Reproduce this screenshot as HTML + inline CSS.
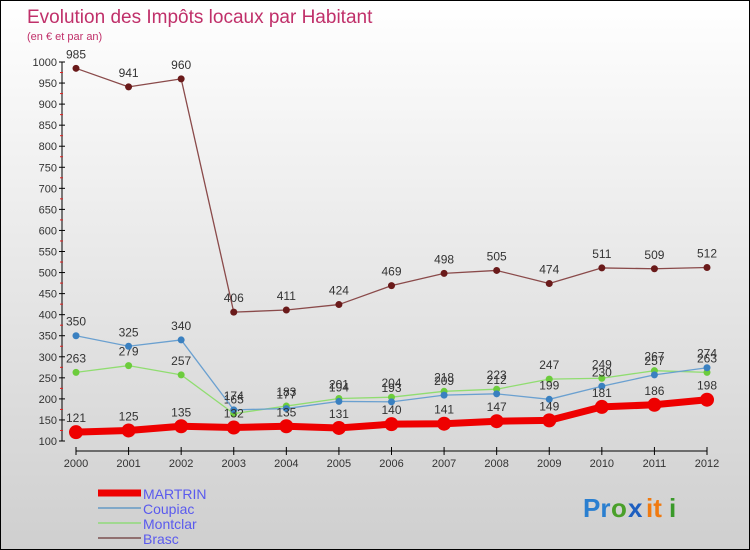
<!DOCTYPE html>
<html><head><meta charset="utf-8">
<style>
body{margin:0;}
#wrap{width:748px;height:548px;border:1px solid #000;background:linear-gradient(#ffffff,#cfcfcf);position:relative;overflow:hidden;font-family:"Liberation Sans",sans-serif;}
svg text{font-family:"Liberation Sans",sans-serif;}
</style></head>
<body>
<div id="wrap">
<svg id="chart" width="748" height="548">
<text x="26" y="22" font-size="19" fill="#c0306a">Evolution des Impôts locaux par Habitant</text>
<text x="26" y="39" font-size="11" fill="#c0306a">(en € et par an)</text>
<g id="axes"></g>
<g id="series"></g>
<g id="legend"></g>
<g font-size="26" font-weight="bold">
<text x="582" y="516" fill="#2a7fd0">Pr</text><text x="610" y="516" fill="#4aa02a">o</text><text x="627" y="516" fill="#1e5fc0">x</text><text x="645" y="516" fill="#f07a10">it</text><text x="668" y="516" fill="#3a9a2a">i</text>
</g>
</svg>
</div>
<script>
const years=[2000,2001,2002,2003,2004,2005,2006,2007,2008,2009,2010,2011,2012];
const martrin=[121,125,135,132,135,131,140,141,147,149,181,186,198];
const coupiac=[350,325,340,174,177,194,193,209,212,199,230,257,274];
const montclar=[263,279,257,165,183,201,204,218,223,247,249,267,263];
const brasc=[985,941,960,406,411,424,469,498,505,474,511,509,512];
const yTicks=[100,150,200,250,300,350,400,450,500,550,600,650,700,750,800,850,900,950,1000];
const NS="http://www.w3.org/2000/svg";
function X(i){return 75+i*(706-75)/(years.length-1);}
function Y(v){return 440-(v-100)*(440-61)/900;}
function mk(tag,attrs,parent,txt){const e=document.createElementNS(NS,tag);for(const k in attrs)e.setAttribute(k,attrs[k]);if(txt!==undefined)e.textContent=txt;parent.appendChild(e);return e;}
const axes=document.getElementById('axes');
let ya=mk('line',{x1:61,y1:61,x2:61,y2:440,stroke:'#000'},axes);


yTicks.forEach((t,i)=>{
  const y=Y(t);
  mk('line',{x1:58,y1:y,x2:64,y2:y,stroke:'#000'},axes);
  const tl=mk('text',{x:56,y:y+4,'font-size':11,'text-anchor':'end',fill:'#333'},axes,t);
  
  
  if(i<yTicks.length-1){mk('line',{x1:59,y1:Y(t+25),x2:62,y2:Y(t+25),stroke:'#e02020'},axes);}
});
let xa=mk('line',{x1:X(0),y1:450,x2:X(years.length-1),y2:450,stroke:'#000'},axes);


years.forEach((yr,i)=>{
  mk('line',{x1:X(i),y1:446,x2:X(i),y2:454,stroke:'#000'},axes);
  const tl=mk('text',{x:X(i),y:466,'font-size':11,'text-anchor':'middle',fill:'#333'},axes,yr);
  
  
});
const seriesG=document.getElementById('series');
function drawSeries(vals,name,color,dot,lw,r){
  const g=mk('g',{},seriesG);
  
  
  const pts=vals.map((v,i)=>X(i)+','+Y(v)).join(' ');
  mk('polyline',{points:pts,fill:'none',stroke:color,'stroke-width':lw,'stroke-linejoin':'round'},g);
  vals.forEach((v,i)=>{
    const c=mk('circle',{cx:X(i),cy:Y(v),r:r,fill:dot},g);
    
    
    const t=mk('text',{x:X(i),y:Y(v)-10,'font-size':12,'text-anchor':'middle',fill:'#333'},g,v);
    
    
  });
}
drawSeries(brasc,'brasc','#8a4a4a','#6a1a1a',1.3,3.5);
drawSeries(montclar,'montclar','#90dd70','#6ccc3c',1.3,3.5);
drawSeries(coupiac,'coupiac','#6aa0d0','#3a80c0',1.3,3.5);
drawSeries(martrin,'martrin','#ee0000','#ee0000',7,7);
const lg=document.getElementById('legend');
const items=[['MARTRIN','#ee0000',7],['Coupiac','#80a8c8',2],['Montclar','#a0d890',2],['Brasc','#907070',2]];
items.forEach((it,i)=>{
  const y=492+i*15;
  const g=mk('g',{},lg);
  
  
  mk('line',{x1:97,y1:y,x2:140,y2:y,stroke:it[1],'stroke-width':it[2]},g);
  mk('text',{x:142,y:y+6,'font-size':14,fill:'#5a5aee'},g,it[0]);
});
</script>
</body></html>
